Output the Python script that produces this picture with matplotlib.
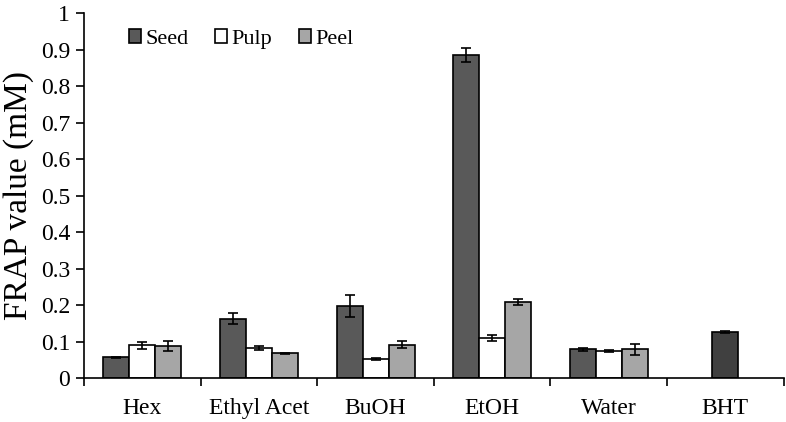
import numpy as np
import matplotlib
matplotlib.use('Agg')
import matplotlib.pyplot as plt

categories = ['Hex', 'Ethyl Acet', 'BuOH', 'EtOH', 'Water', 'BHT']
extracts = categories[:5]

seed = [0.057, 0.163, 0.198, 0.885, 0.079]
seed_err = [0.002, 0.016, 0.030, 0.018, 0.004]
pulp = [0.090, 0.083, 0.052, 0.110, 0.074]
pulp_err = [0.009, 0.006, 0.002, 0.007, 0.003]
peel = [0.088, 0.068, 0.092, 0.208, 0.079]
peel_err = [0.013, 0.002, 0.010, 0.008, 0.015]
bht = 0.126
bht_err = 0.002

plt.rcParams['font.family'] = ['Liberation Serif', 'DejaVu Serif']

fig = plt.figure(figsize=(7.86, 4.22), dpi=100)
ax = fig.add_axes([0.107, 0.104, 0.890, 0.865])

w = 0.223
x = np.arange(len(extracts))
err_kw = dict(ecolor='black', elinewidth=1.2, capsize=3.5, capthick=1.2)
ax.bar(x - w, seed, w, yerr=seed_err, color='#595959', edgecolor='black',
       linewidth=1.2, label='Seed', error_kw=err_kw)
ax.bar(x, pulp, w, yerr=pulp_err, color='white', edgecolor='black',
       linewidth=1.2, label='Pulp', error_kw=err_kw)
ax.bar(x + w, peel, w, yerr=peel_err, color='#a6a6a6', edgecolor='black',
       linewidth=1.2, label='Peel', error_kw=err_kw)
ax.bar([5], [bht], w, yerr=[bht_err], color='#404040', edgecolor='black',
       linewidth=1.2, error_kw=err_kw)

ax.set_xlim(-0.5, 5.5)
ax.set_ylim(0, 1)
ax.set_yticks(np.arange(0, 1.01, 0.1))
ax.set_yticklabels(['0'] + ['%.1f' % v for v in np.arange(0.1, 0.95, 0.1)] + ['1'])
ax.set_xticks(np.arange(len(categories)))
ax.set_xticklabels(categories)
ax.set_xticks(np.arange(-0.5, 5.6, 1), minor=True)
ax.tick_params(axis='x', which='major', length=0, labelsize=17, pad=14)
ax.tick_params(axis='x', which='minor', length=6, width=1.2, direction='out')
ax.tick_params(axis='y', labelsize=17, length=6, width=1.2, direction='out', pad=4)
for s in ['top', 'right']:
    ax.spines[s].set_visible(False)
for s in ['left', 'bottom']:
    ax.spines[s].set_linewidth(1.2)

ax.set_ylabel('FRAP value (mM)', fontsize=24, labelpad=5)
ax.legend(loc='upper left', ncol=3, frameon=False, fontsize=16,
          bbox_to_anchor=(0.035, 1.01), handlelength=0.55, handleheight=0.55,
          handletextpad=0.2, columnspacing=1.2)

fig.savefig('out.png', dpi=100)
